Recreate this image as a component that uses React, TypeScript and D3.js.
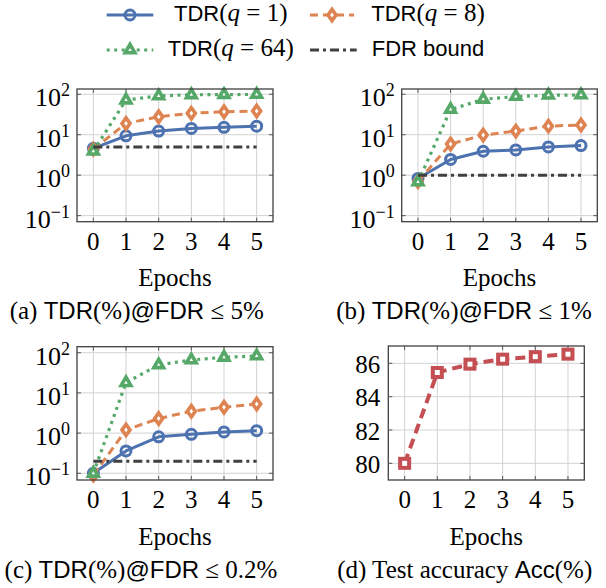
import React from "react";
import * as d3 from "d3";

// ---------- data ----------
const epochs = [0, 1, 2, 3, 4, 5];

const tdr5_q1 = [4.6, 9.4, 12.3, 14.3, 15.2, 16.3];
const tdr5_q8 = [4.4, 19, 27.8, 33.8, 37, 38.5];
const tdr5_q64 = [3.9, 72, 91, 97, 98, 99];
const fdr5 = 5;

const tdr1_q1 = [0.83, 2.45, 3.9, 4.2, 5.0, 5.4];
const tdr1_q8 = [0.7, 5.9, 9.8, 12.3, 16.3, 17.4];
const tdr1_q64 = [0.68, 42, 75, 88, 95, 96];
const fdr1 = 1;

const tdr02_q1 = [0.1, 0.36, 0.81, 0.93, 1.07, 1.15];
const tdr02_q8 = [0.09, 1.2, 2.3, 3.5, 4.4, 5.3];
const tdr02_q64 = [0.1, 18, 50, 66, 77, 83];
const fdr02 = 0.2;

const testAcc = [80.0, 85.45, 85.95, 86.25, 86.4, 86.55];

const logTickExps = [-1, 0, 1, 2];
const accTicks = [80, 82, 84, 86];

// ---------- style ----------
const BLUE = "#4c72b0";
const ORANGE = "#dd8452";
const GREEN = "#55a868";
const RED = "#c44e52";
const DARK = "#404040";
const SERIF = "'Liberation Serif', 'Times New Roman', serif";
const SANS = "'Liberation Sans', Arial, sans-serif";

type Kind = "circle" | "diamond" | "triangle" | "square";

function Marker({ kind, x, y, color }: { kind: Kind; x: number; y: number; color: string }) {
  if (kind === "circle")
    return <circle cx={x} cy={y} r={5} fill="none" stroke={color} strokeWidth={3} />;
  if (kind === "diamond")
    return (
      <path
        d={`M${x},${y - 5.6}L${x + 4},${y}L${x},${y + 5.6}L${x - 4},${y}Z`}
        fill="white"
        stroke={color}
        strokeWidth={3.6}
        strokeLinejoin="miter"
      />
    );
  if (kind === "triangle") {
    const r = 5.6;
    return (
      <path
        d={`M${x},${y - r}L${x + r * 0.866},${y + r / 2}L${x - r * 0.866},${y + r / 2}Z`}
        fill="white"
        stroke={color}
        strokeWidth={3.6}
      />
    );
  }
  return <rect x={x - 4.5} y={y - 4.5} width={9} height={9} fill="white" stroke={color} strokeWidth={4} />;
}

interface Series {
  values: number[];
  color: string;
  dash: string;
  width: number;
  kind: Kind;
}

const SQ1 = { color: BLUE, dash: "none", width: 3, kind: "circle" as Kind };
const SQ8 = { color: ORANGE, dash: "8,5", width: 3, kind: "diamond" as Kind };
const SQ64 = { color: GREEN, dash: "3,4.5", width: 3.2, kind: "triangle" as Kind };
const FDR_STYLE = { color: DARK, dash: "9,4,3,4", width: 3 };

interface Part {
  t: string;
  sans?: boolean;
  italic?: boolean;
}

function MixedText({ parts, x, y, serifSize, sansSize }: { parts: Part[]; x: number; y: number; serifSize: number; sansSize: number }) {
  return (
    <text x={x} y={y} textAnchor="middle" fill="black" style={{ whiteSpace: "pre" }}>
      {parts.map((p, i) => (
        <tspan
          key={i}
          fontFamily={p.sans ? SANS : SERIF}
          fontSize={p.sans ? sansSize : serifSize}
          fontStyle={p.italic ? "italic" : "normal"}
        >
          {p.t}
        </tspan>
      ))}
    </text>
  );
}

interface PanelProps {
  left: number;
  right: number;
  top: number;
  bottom: number;
  log: boolean;
  yDomain: [number, number];
  series: Series[];
  bound?: number;
  caption: Part[];
  captionX: number;
}

function Panel({ left, right, top, bottom, log, yDomain, series, bound, caption, captionX }: PanelProps) {
  const x = d3.scaleLinear().domain([-0.5, 5.5]).range([left, right]);
  const y = log
    ? d3.scaleLog().domain(yDomain).range([bottom, top])
    : d3.scaleLinear().domain(yDomain).range([bottom, top]);
  const yTicks = log ? logTickExps.map((e) => Math.pow(10, e)) : accTicks;
  const line = d3
    .line<number>()
    .x((_, i) => x(epochs[i]))
    .y((v) => y(v));
  const gridC = "#d2d2d2";
  const tickC = "#5a5a5a";
  return (
    <g>
      {/* grid */}
      {epochs.map((e) => (
        <line key={"gx" + e} x1={x(e)} x2={x(e)} y1={top} y2={bottom} stroke={gridC} strokeWidth={1} />
      ))}
      {yTicks.map((t) => (
        <line key={"gy" + t} x1={left} x2={right} y1={y(t)} y2={y(t)} stroke={gridC} strokeWidth={1} />
      ))}
      {/* ticks */}
      {epochs.map((e) => (
        <g key={"tx" + e}>
          <line x1={x(e)} x2={x(e)} y1={bottom} y2={bottom - 4} stroke={tickC} strokeWidth={1} />
          <line x1={x(e)} x2={x(e)} y1={top} y2={top + 4} stroke={tickC} strokeWidth={1} />
        </g>
      ))}
      {yTicks.map((t) => (
        <g key={"ty" + t}>
          <line x1={left} x2={left + 4} y1={y(t)} y2={y(t)} stroke={tickC} strokeWidth={1} />
          <line x1={right} x2={right - 4} y1={y(t)} y2={y(t)} stroke={tickC} strokeWidth={1} />
        </g>
      ))}
      {/* series */}
      {series.map((s, k) => (
        <g key={"s" + k}>
          <path
            d={line(s.values) || ""}
            fill="none"
            stroke={s.color}
            strokeWidth={s.width}
            strokeDasharray={s.dash}
            strokeLinejoin="round"
          />
          {s.values.map((v, i) => (
            <Marker key={i} kind={s.kind} x={x(epochs[i])} y={y(v)} color={s.color} />
          ))}
        </g>
      ))}
      {bound !== undefined && (
        <line
          x1={x(epochs[0])}
          x2={x(epochs[epochs.length - 1])}
          y1={y(bound)}
          y2={y(bound)}
          stroke={FDR_STYLE.color}
          strokeWidth={FDR_STYLE.width}
          strokeDasharray={FDR_STYLE.dash}
        />
      )}
      {/* frame */}
      <rect x={left} y={top} width={right - left} height={bottom - top} fill="none" stroke="#404040" strokeWidth={1.3} />
      {/* x tick labels */}
      {epochs.map((e) => (
        <text key={"lx" + e} x={x(e)} y={bottom + 28.3} textAnchor="middle" fontFamily={SERIF} fontSize={25}>
          {e}
        </text>
      ))}
      {/* y tick labels */}
      {log
        ? logTickExps.map((ex) => (
            <text key={"ly" + ex} x={left - 7} y={y(Math.pow(10, ex)) + 12} textAnchor="end" fontFamily={SERIF} fontSize={26}>
              10
              <tspan dy={-10} fontSize={18}>
                {ex < 0 ? "\u2212" + Math.abs(ex) : String(ex)}
              </tspan>
            </text>
          ))
        : accTicks.map((t) => (
            <text key={"ly" + t} x={left - 8} y={y(t) + 9.5} textAnchor="end" fontFamily={SERIF} fontSize={25}>
              {t}
            </text>
          ))}
      {/* axis label */}
      <text x={(left + right) / 2} y={bottom + 64.5} textAnchor="middle" fontFamily={SERIF} fontSize={25}>
        Epochs
      </text>
      <MixedText parts={caption} x={captionX} y={bottom + 97.6} serifSize={25} sansSize={24} />
    </g>
  );
}

function LegendEntry({ cx, lineX1, lineX2, ly, color, dash, width, kind, parts, textX }: any) {
  return (
    <g>
      <line x1={lineX1} x2={lineX2} y1={ly} y2={ly} stroke={color} strokeWidth={width} strokeDasharray={dash} />
      {kind && <Marker kind={kind} x={cx} y={ly} color={color} />}
      <MixedText parts={parts} x={textX} y={ly + 6} serifSize={25} sansSize={22} />
    </g>
  );
}

export default function App() {
  const row1Top = 89;
  const row1Bottom = 221.7;
  const row2Top = 346.7;
  const row2Bottom = 480;
  return (
    <svg width={606} height={588} style={{ position: "absolute", left: 0, top: 0, background: "white" }}>
      {/* legend */}
      <LegendEntry cx={130} lineX1={106.7} lineX2={153.3} ly={15} {...SQ1} textX={230.8}
        parts={[{ t: "TDR", sans: true }, { t: "(" }, { t: "q", italic: true }, { t: " = 1)" }]} />
      <LegendEntry cx={332} lineX1={310} lineX2={354} ly={15} {...SQ8} textX={428}
        parts={[{ t: "TDR", sans: true }, { t: "(" }, { t: "q", italic: true }, { t: " = 8)" }]} />
      <LegendEntry cx={130} lineX1={106.7} lineX2={153.3} ly={50} {...SQ64} textX={230.8}
        parts={[{ t: "TDR", sans: true }, { t: "(" }, { t: "q", italic: true }, { t: " = 64)" }]} />
      <LegendEntry cx={332} lineX1={310} lineX2={356.7} ly={50} {...FDR_STYLE} kind={undefined} textX={428}
        parts={[{ t: "FDR bound", sans: true }]} />

      <Panel left={77} right={273} top={row1Top} bottom={row1Bottom} log
        yDomain={[Math.pow(10, -1.15), Math.pow(10, 2.13)]}
        series={[
          { values: tdr5_q1, ...SQ1 },
          { values: tdr5_q8, ...SQ8 },
          { values: tdr5_q64, ...SQ64 },
        ]}
        bound={fdr5}
        caption={[{ t: "(a) " }, { t: "TDR", sans: true }, { t: "(%)" }, { t: "@FDR", sans: true }, { t: " \u2264 5%" }]}
        captionX={136.7}
      />
      <Panel left={401.7} right={597.3} top={row1Top} bottom={row1Bottom} log
        yDomain={[Math.pow(10, -1.15), Math.pow(10, 2.13)]}
        series={[
          { values: tdr1_q1, ...SQ1 },
          { values: tdr1_q8, ...SQ8 },
          { values: tdr1_q64, ...SQ64 },
        ]}
        bound={fdr1}
        caption={[{ t: "(b) " }, { t: "TDR", sans: true }, { t: "(%)" }, { t: "@FDR", sans: true }, { t: " \u2264 1%" }]}
        captionX={464}
      />
      <Panel left={77} right={273} top={row2Top} bottom={row2Bottom} log
        yDomain={[Math.pow(10, -1.167), Math.pow(10, 2.15)]}
        series={[
          { values: tdr02_q1, ...SQ1 },
          { values: tdr02_q8, ...SQ8 },
          { values: tdr02_q64, ...SQ64 },
        ]}
        bound={fdr02}
        caption={[{ t: "(c) " }, { t: "TDR", sans: true }, { t: "(%)" }, { t: "@FDR", sans: true }, { t: " \u2264 0.2%" }]}
        captionX={141}
      />
      <Panel left={388.3} right={584.3} top={346} bottom={row2Bottom} log={false}
        yDomain={[79, 87.04]}
        series={[{ values: testAcc, color: RED, dash: "10,6", width: 4, kind: "square" }]}
        caption={[{ t: "(d) Test accuracy " }, { t: "Acc", sans: true }, { t: "(%)" }]}
        captionX={464.7}
      />
    </svg>
  );
}
